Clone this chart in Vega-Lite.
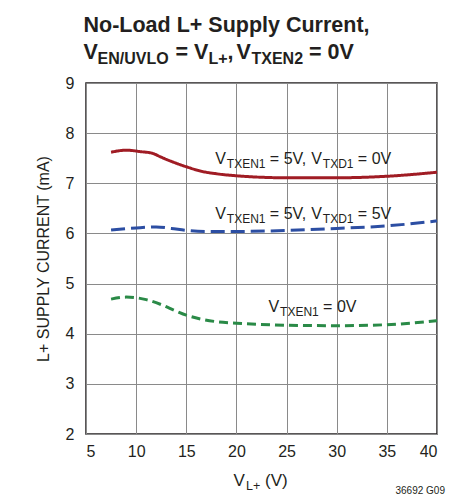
{
  "$schema": "https://vega.github.io/schema/vega-lite/v6.json",
  "width": 351,
  "height": 351,
  "autosize": {"type": "none"},
  "padding": {"left": 86, "top": 83, "right": 30, "bottom": 64},
  "background": "white",
  "config": {
    "view": {"stroke": "#231f20", "strokeWidth": 1.5},
    "axis": {
      "domain": false, "ticks": false, "grid": true, "gridColor": "#8a8a8a", "gridWidth": 1,
      "labelFont": "Liberation Sans", "labelFontSize": 16, "labelColor": "#231f20",
      "titleFont": "Liberation Sans", "titleFontSize": 16, "titleFontWeight": "normal", "titleColor": "#231f20"
    },
    "text": {"font": "Liberation Sans", "color": "#231f20"}
  },
  "layer": [
    {
      "data": {"values": [
        {"series": "TXEN1=5V, TXD1=0V", "x": 7.5, "y": 7.62},
        {"series": "TXEN1=5V, TXD1=0V", "x": 9, "y": 7.66},
        {"series": "TXEN1=5V, TXD1=0V", "x": 10.5, "y": 7.63},
        {"series": "TXEN1=5V, TXD1=0V", "x": 11.6, "y": 7.6},
        {"series": "TXEN1=5V, TXD1=0V", "x": 12.5, "y": 7.52},
        {"series": "TXEN1=5V, TXD1=0V", "x": 14, "y": 7.4},
        {"series": "TXEN1=5V, TXD1=0V", "x": 15, "y": 7.33},
        {"series": "TXEN1=5V, TXD1=0V", "x": 16.5, "y": 7.24},
        {"series": "TXEN1=5V, TXD1=0V", "x": 18, "y": 7.19},
        {"series": "TXEN1=5V, TXD1=0V", "x": 20, "y": 7.15},
        {"series": "TXEN1=5V, TXD1=0V", "x": 22.5, "y": 7.12},
        {"series": "TXEN1=5V, TXD1=0V", "x": 25, "y": 7.11},
        {"series": "TXEN1=5V, TXD1=0V", "x": 30, "y": 7.11},
        {"series": "TXEN1=5V, TXD1=0V", "x": 35, "y": 7.14},
        {"series": "TXEN1=5V, TXD1=0V", "x": 40, "y": 7.22},
        {"series": "TXEN1=5V, TXD1=5V", "x": 7.5, "y": 6.07},
        {"series": "TXEN1=5V, TXD1=5V", "x": 10, "y": 6.11},
        {"series": "TXEN1=5V, TXD1=5V", "x": 12, "y": 6.13},
        {"series": "TXEN1=5V, TXD1=5V", "x": 13.5, "y": 6.1},
        {"series": "TXEN1=5V, TXD1=5V", "x": 15, "y": 6.06},
        {"series": "TXEN1=5V, TXD1=5V", "x": 17, "y": 6.04},
        {"series": "TXEN1=5V, TXD1=5V", "x": 20, "y": 6.04},
        {"series": "TXEN1=5V, TXD1=5V", "x": 25, "y": 6.06},
        {"series": "TXEN1=5V, TXD1=5V", "x": 30, "y": 6.1},
        {"series": "TXEN1=5V, TXD1=5V", "x": 35, "y": 6.15},
        {"series": "TXEN1=5V, TXD1=5V", "x": 40, "y": 6.25},
        {"series": "TXEN1=0V", "x": 7.5, "y": 4.69},
        {"series": "TXEN1=0V", "x": 9, "y": 4.73},
        {"series": "TXEN1=0V", "x": 11, "y": 4.68},
        {"series": "TXEN1=0V", "x": 12.5, "y": 4.58},
        {"series": "TXEN1=0V", "x": 14, "y": 4.45},
        {"series": "TXEN1=0V", "x": 15, "y": 4.37},
        {"series": "TXEN1=0V", "x": 16.5, "y": 4.29},
        {"series": "TXEN1=0V", "x": 18, "y": 4.24},
        {"series": "TXEN1=0V", "x": 20, "y": 4.21},
        {"series": "TXEN1=0V", "x": 25, "y": 4.17},
        {"series": "TXEN1=0V", "x": 30, "y": 4.16},
        {"series": "TXEN1=0V", "x": 35, "y": 4.18},
        {"series": "TXEN1=0V", "x": 40, "y": 4.26}
      ]},
      "mark": {"type": "line", "interpolate": "monotone", "strokeWidth": 3},
      "encoding": {
        "x": {"field": "x", "type": "quantitative", "scale": {"domain": [5, 40], "nice": false, "zero": false},
              "axis": {"values": [5, 10, 15, 20, 25, 30, 35, 40], "title": null, "labelPadding": 9}},
        "y": {"field": "y", "type": "quantitative", "scale": {"domain": [2, 9], "nice": false, "zero": false},
              "axis": {"values": [2, 3, 4, 5, 6, 7, 8, 9], "title": "L+ SUPPLY CURRENT (mA)", "labelPadding": 12, "titlePadding": 14}},
        "color": {"field": "series", "type": "nominal", "legend": null,
                  "scale": {"domain": ["TXEN1=5V, TXD1=0V", "TXEN1=5V, TXD1=5V", "TXEN1=0V"], "range": ["#a01c24", "#2c4ea3", "#2a8a47"]}},
        "strokeDash": {"field": "series", "type": "nominal", "legend": null,
                  "scale": {"domain": ["TXEN1=5V, TXD1=0V", "TXEN1=5V, TXD1=5V", "TXEN1=0V"], "range": [[1, 0], [14, 6], [9, 5]]}}
      }
    },
    {"data": {"values": [{}]}, "mark": {"type": "text", "text": "No-Load L+ Supply Current,", "align": "left", "baseline": "alphabetic", "fontSize": 21.5, "fontWeight": "bold", "dx": -2.5, "dy": -51.5}, "encoding": {"x": {"datum": 5}, "y": {"datum": 9}}},
    {"data": {"values": [{}]}, "mark": {"type": "text", "text": "V", "align": "left", "baseline": "alphabetic", "fontSize": 21.5, "fontWeight": "bold", "dx": -2.5, "dy": -24.5}, "encoding": {"x": {"datum": 5}, "y": {"datum": 9}}},
    {"data": {"values": [{}]}, "mark": {"type": "text", "text": "EN/UVLO", "align": "left", "baseline": "alphabetic", "fontSize": 16, "fontWeight": "bold", "dx": 11.5, "dy": -19}, "encoding": {"x": {"datum": 5}, "y": {"datum": 9}}},
    {"data": {"values": [{}]}, "mark": {"type": "text", "text": "= V", "align": "left", "baseline": "alphabetic", "fontSize": 21.5, "fontWeight": "bold", "dx": 89.5, "dy": -24.5}, "encoding": {"x": {"datum": 5}, "y": {"datum": 9}}},
    {"data": {"values": [{}]}, "mark": {"type": "text", "text": "L+", "align": "left", "baseline": "alphabetic", "fontSize": 16, "fontWeight": "bold", "dx": 122.5, "dy": -19}, "encoding": {"x": {"datum": 5}, "y": {"datum": 9}}},
    {"data": {"values": [{}]}, "mark": {"type": "text", "text": ",", "align": "left", "baseline": "alphabetic", "fontSize": 21.5, "fontWeight": "bold", "dx": 141.5, "dy": -24.5}, "encoding": {"x": {"datum": 5}, "y": {"datum": 9}}},
    {"data": {"values": [{}]}, "mark": {"type": "text", "text": "V", "align": "left", "baseline": "alphabetic", "fontSize": 21.5, "fontWeight": "bold", "dx": 150.5, "dy": -24.5}, "encoding": {"x": {"datum": 5}, "y": {"datum": 9}}},
    {"data": {"values": [{}]}, "mark": {"type": "text", "text": "TXEN2", "align": "left", "baseline": "alphabetic", "fontSize": 16, "fontWeight": "bold", "dx": 165.5, "dy": -19}, "encoding": {"x": {"datum": 5}, "y": {"datum": 9}}},
    {"data": {"values": [{}]}, "mark": {"type": "text", "text": "= 0V", "align": "left", "baseline": "alphabetic", "fontSize": 21.5, "fontWeight": "bold", "dx": 223, "dy": -24.5}, "encoding": {"x": {"datum": 5}, "y": {"datum": 9}}},

    {"data": {"values": [{}]}, "mark": {"type": "text", "text": "V", "align": "left", "baseline": "alphabetic", "fontSize": 16, "dx": 0}, "encoding": {"x": {"datum": 17.9}, "y": {"datum": 7.39}}},
    {"data": {"values": [{}]}, "mark": {"type": "text", "text": "TXEN1", "align": "left", "baseline": "alphabetic", "fontSize": 12, "dx": 11.5, "dy": 4}, "encoding": {"x": {"datum": 17.9}, "y": {"datum": 7.39}}},
    {"data": {"values": [{}]}, "mark": {"type": "text", "text": "= 5V,", "align": "left", "baseline": "alphabetic", "fontSize": 16, "dx": 54.5}, "encoding": {"x": {"datum": 17.9}, "y": {"datum": 7.39}}},
    {"data": {"values": [{}]}, "mark": {"type": "text", "text": "V", "align": "left", "baseline": "alphabetic", "fontSize": 16, "dx": 96}, "encoding": {"x": {"datum": 17.9}, "y": {"datum": 7.39}}},
    {"data": {"values": [{}]}, "mark": {"type": "text", "text": "TXD1", "align": "left", "baseline": "alphabetic", "fontSize": 12, "dx": 107.5, "dy": 4}, "encoding": {"x": {"datum": 17.9}, "y": {"datum": 7.39}}},
    {"data": {"values": [{}]}, "mark": {"type": "text", "text": "= 0V", "align": "left", "baseline": "alphabetic", "fontSize": 16, "dx": 142.5}, "encoding": {"x": {"datum": 17.9}, "y": {"datum": 7.39}}},

    {"data": {"values": [{}]}, "mark": {"type": "text", "text": "V", "align": "left", "baseline": "alphabetic", "fontSize": 16, "dx": 0}, "encoding": {"x": {"datum": 17.9}, "y": {"datum": 6.29}}},
    {"data": {"values": [{}]}, "mark": {"type": "text", "text": "TXEN1", "align": "left", "baseline": "alphabetic", "fontSize": 12, "dx": 11.5, "dy": 4}, "encoding": {"x": {"datum": 17.9}, "y": {"datum": 6.29}}},
    {"data": {"values": [{}]}, "mark": {"type": "text", "text": "= 5V,", "align": "left", "baseline": "alphabetic", "fontSize": 16, "dx": 54.5}, "encoding": {"x": {"datum": 17.9}, "y": {"datum": 6.29}}},
    {"data": {"values": [{}]}, "mark": {"type": "text", "text": "V", "align": "left", "baseline": "alphabetic", "fontSize": 16, "dx": 96}, "encoding": {"x": {"datum": 17.9}, "y": {"datum": 6.29}}},
    {"data": {"values": [{}]}, "mark": {"type": "text", "text": "TXD1", "align": "left", "baseline": "alphabetic", "fontSize": 12, "dx": 107.5, "dy": 4}, "encoding": {"x": {"datum": 17.9}, "y": {"datum": 6.29}}},
    {"data": {"values": [{}]}, "mark": {"type": "text", "text": "= 5V", "align": "left", "baseline": "alphabetic", "fontSize": 16, "dx": 142.5}, "encoding": {"x": {"datum": 17.9}, "y": {"datum": 6.29}}},

    {"data": {"values": [{}]}, "mark": {"type": "text", "text": "V", "align": "left", "baseline": "alphabetic", "fontSize": 16, "dx": 0}, "encoding": {"x": {"datum": 23.21}, "y": {"datum": 4.43}}},
    {"data": {"values": [{}]}, "mark": {"type": "text", "text": "TXEN1", "align": "left", "baseline": "alphabetic", "fontSize": 12, "dx": 11.5, "dy": 4}, "encoding": {"x": {"datum": 23.21}, "y": {"datum": 4.43}}},
    {"data": {"values": [{}]}, "mark": {"type": "text", "text": "= 0V", "align": "left", "baseline": "alphabetic", "fontSize": 16, "dx": 54.5}, "encoding": {"x": {"datum": 23.21}, "y": {"datum": 4.43}}},

    {"data": {"values": [{}]}, "mark": {"type": "text", "text": "V", "align": "left", "baseline": "alphabetic", "fontSize": 17, "dx": 0, "dy": 52}, "encoding": {"x": {"datum": 19.72}, "y": {"datum": 2}}},
    {"data": {"values": [{}]}, "mark": {"type": "text", "text": "L+", "align": "left", "baseline": "alphabetic", "fontSize": 12.5, "dx": 12.5, "dy": 56}, "encoding": {"x": {"datum": 19.72}, "y": {"datum": 2}}},
    {"data": {"values": [{}]}, "mark": {"type": "text", "text": "(V)", "align": "left", "baseline": "alphabetic", "fontSize": 17, "dx": 31.5, "dy": 52}, "encoding": {"x": {"datum": 19.72}, "y": {"datum": 2}}},
    {"data": {"values": [{}]}, "mark": {"type": "text", "text": "36692 G09", "align": "right", "baseline": "alphabetic", "fontSize": 10, "dx": 8, "dy": 60}, "encoding": {"x": {"datum": 40}, "y": {"datum": 2}}}
  ]
}
